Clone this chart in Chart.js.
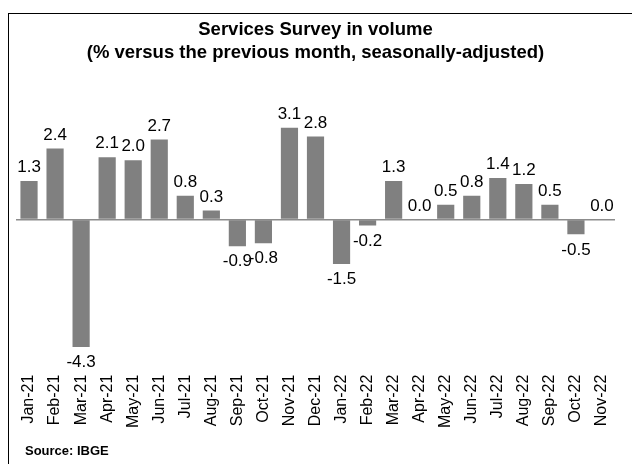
<!DOCTYPE html>
<html>
<head>
<meta charset="utf-8">
<script src="https://cdn.jsdelivr.net/npm/chart.js@4"></script>
<style>
  body { margin: 0; background: #fff; overflow: hidden; font-family: "Liberation Sans", Arial, sans-serif; }
  #frame { position: absolute; left: 8px; top: 13px; width: 650px; height: 470px; border: 1px solid #000; box-sizing: border-box; }
  #wrap { position: absolute; left: 0; top: 0; width: 633px; height: 458px; }
  #source { position: absolute; left: 16px; top: 429px; font-size: 13px; font-weight: bold; color: #000; }
</style>
</head>
<body>
<div id="frame">
  <div id="wrap"><canvas id="chart"></canvas></div>
  <div id="source">Source: IBGE</div>
</div>
<script>
const months = ['Jan-21', 'Feb-21', 'Mar-21', 'Apr-21', 'May-21', 'Jun-21', 'Jul-21', 'Aug-21',
  'Sep-21', 'Oct-21', 'Nov-21', 'Dec-21', 'Jan-22', 'Feb-22', 'Mar-22', 'Apr-22', 'May-22',
  'Jun-22', 'Jul-22', 'Aug-22', 'Sep-22', 'Oct-22', 'Nov-22'];
const volume = [1.3, 2.4, -4.3, 2.1, 2.0, 2.7, 0.8, 0.3, -0.9, -0.8, 3.1, 2.8,
  -1.5, -0.2, 1.3, 0.0, 0.5, 0.8, 1.4, 1.2, 0.5, -0.5, 0.0];
const titleLines = ['Services Survey in volume', '(% versus the previous month, seasonally-adjusted)'];

// 막대 끝에 값 표시
const valueLabels = {
  id: 'valueLabels',
  afterDatasetsDraw(chart) {
    const ctx = chart.ctx;
    const meta = chart.getDatasetMeta(0);
    ctx.save();
    ctx.font = '17px "Liberation Sans", Arial, sans-serif';
    ctx.fillStyle = '#000';
    ctx.textAlign = 'center';
    meta.data.forEach((bar, i) => {
      const v = volume[i];
      if (v < 0) {
        ctx.textBaseline = 'top';
        ctx.fillText(v.toFixed(1), bar.x, bar.y + 7);
      } else {
        ctx.textBaseline = 'bottom';
        ctx.fillText(v.toFixed(1), bar.x, bar.y - 5);
      }
    });
    ctx.restore();
  }
};

new Chart(document.getElementById('chart'), {
  type: 'bar',
  data: {
    labels: months,
    datasets: [{
      data: volume,
      backgroundColor: '#808080',
      barPercentage: 0.66,
      categoryPercentage: 1
    }]
  },
  options: {
    responsive: true,
    maintainAspectRatio: false,
    animation: false,
    layout: { padding: { left: 7, right: 27, top: 0, bottom: 45 } },
    plugins: {
      legend: { display: false },
      tooltip: { enabled: false },
      title: {
        display: true,
        text: titleLines,
        color: '#000',
        font: { family: '"Liberation Sans", Arial, sans-serif', size: 18.5, weight: 'bold', lineHeight: 1.243 },
        padding: { top: 4.5, bottom: 36.5 }
      }
    },
    scales: {
      x: {
        grid: { display: false },
        border: { display: false },
        ticks: {
          color: '#000',
          font: { family: '"Liberation Sans", Arial, sans-serif', size: 16 },
          minRotation: 90,
          maxRotation: 90,
          autoSkip: false,
          padding: -1
        }
      },
      y: {
        min: -5,
        max: 4,
        ticks: { display: false, stepSize: 1 },
        border: { display: false },
        grid: {
          drawTicks: false,
          lineWidth: 1.5,
          color: c => c.tick.value === 0 ? '#8c8c8c' : 'transparent'
        }
      }
    }
  },
  plugins: [valueLabels]
});
</script>
</body>
</html>
